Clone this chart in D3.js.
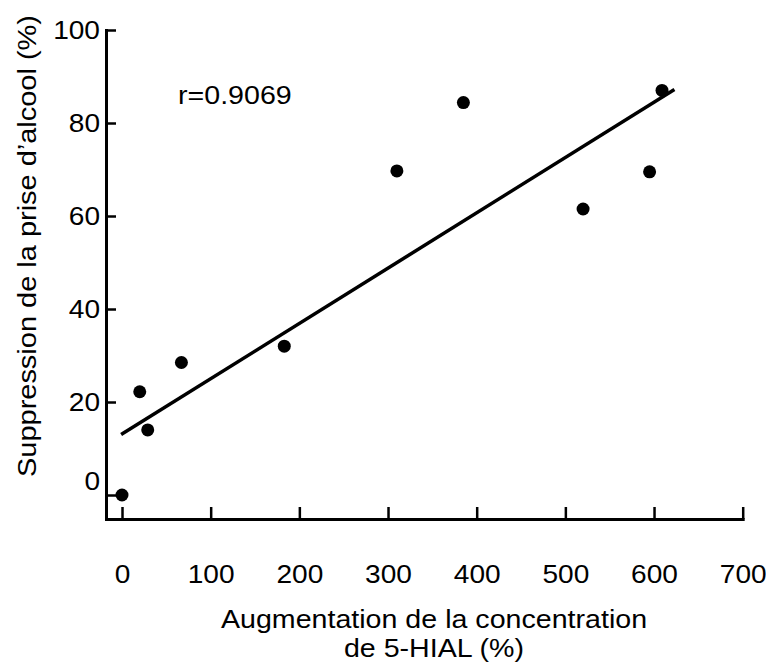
<!DOCTYPE html>
<html>
<head>
<meta charset="utf-8">
<script src="https://cdn.jsdelivr.net/npm/d3@7"></script>
<style>
  html, body { margin: 0; padding: 0; background: #fff; }
  text { font-family: "Liberation Sans", Arial, Helvetica, sans-serif; fill: #000; }
</style>
</head>
<body>
<div id="chart"></div>
<script>
// ---- data ----
const xValues = [0, 20, 29, 67, 183, 310, 385, 520, 595, 609];
const yValues = [0, 22.2, 14, 28.5, 32, 69.7, 84.4, 61.5, 69.5, 87];
const fitX = [-1, 623];
const fitY = [13.0, 87.2];
const xTicks = [0, 100, 200, 300, 400, 500, 600, 700];
const yTicks = [0, 20, 40, 60, 80, 100];
const rLabel = "r=0.9069";
const xTitle = ["Augmentation de la concentration", "de 5-HIAL (%)"];
const yTitle = "Suppression de la prise d\u2019alcool (%)";

const W = 766, H = 664;
const svg = d3.select("#chart").append("svg")
  .attr("width", W).attr("height", H)
  .style("background", "#fff");

const x = d3.scaleLinear().domain([-18.05, 700]).range([106, 742.7]);
const y = d3.scaleLinear().domain([-5.16, 100]).range([519, 30]);

function stretch(sel, f) {
  sel.each(function () {
    const L = this.getComputedTextLength();
    d3.select(this).attr("textLength", L * f).attr("lengthAdjust", "spacingAndGlyphs");
  });
}

// x axis
const gx = svg.append("g").attr("transform", "translate(0,519)")
  .call(d3.axisBottom(x).tickValues(xTicks).tickSize(-12).tickSizeOuter(0).tickPadding(46));
// y axis
const gy = svg.append("g").attr("transform", "translate(106,0)")
  .call(d3.axisLeft(y).tickValues(yTicks).tickSize(-10).tickSizeOuter(0).tickPadding(6));

[gx, gy].forEach(g => {
  g.select(".domain").attr("stroke", "#000").attr("stroke-width", 3).attr("stroke-linecap", "square");
  g.selectAll(".tick line").attr("stroke", "#000").attr("stroke-width", 2.5);
  g.selectAll(".tick text").attr("font-size", 26).attr("fill", "#000")
    .style("font-family", "'Liberation Sans', Arial, sans-serif");
});
gx.attr("font-family", null); gy.attr("font-family", null);
// in the reference the "0" label of the y axis sits a little above its tick
gy.selectAll(".tick").filter(d => d === 0).select("text").attr("y", -14);
stretch(gx.selectAll(".tick text"), 1.08);
stretch(gy.selectAll(".tick text"), 1.08);

// regression line
const line = d3.line().x(d => x(d[0])).y(d => y(d[1]));
svg.append("path")
  .datum(d3.zip(fitX, fitY))
  .attr("d", line)
  .attr("fill", "none").attr("stroke", "#000").attr("stroke-width", 3.5);

// points
svg.append("g").selectAll("circle")
  .data(d3.zip(xValues, yValues))
  .join("circle")
  .attr("cx", d => x(d[0])).attr("cy", d => y(d[1]))
  .attr("r", 6.5).attr("fill", "#000");

// r label
const rt = svg.append("text").attr("x", 178).attr("y", 104)
  .attr("font-size", 26).text(rLabel);
stretch(rt, 1.1);

// x title
const xt = svg.append("g").selectAll("text").data(xTitle).join("text")
  .attr("x", 434).attr("y", (d, i) => 628 + i * 29)
  .attr("text-anchor", "middle").attr("font-size", 26).text(d => d);
stretch(xt, 1.1);

// y title
svg.append("text")
  .attr("transform", "translate(36,246) rotate(-90)")
  .attr("text-anchor", "middle").attr("font-size", 26)
  .attr("textLength", 462).attr("lengthAdjust", "spacingAndGlyphs")
  .text(yTitle);
</script>
</body>
</html>
